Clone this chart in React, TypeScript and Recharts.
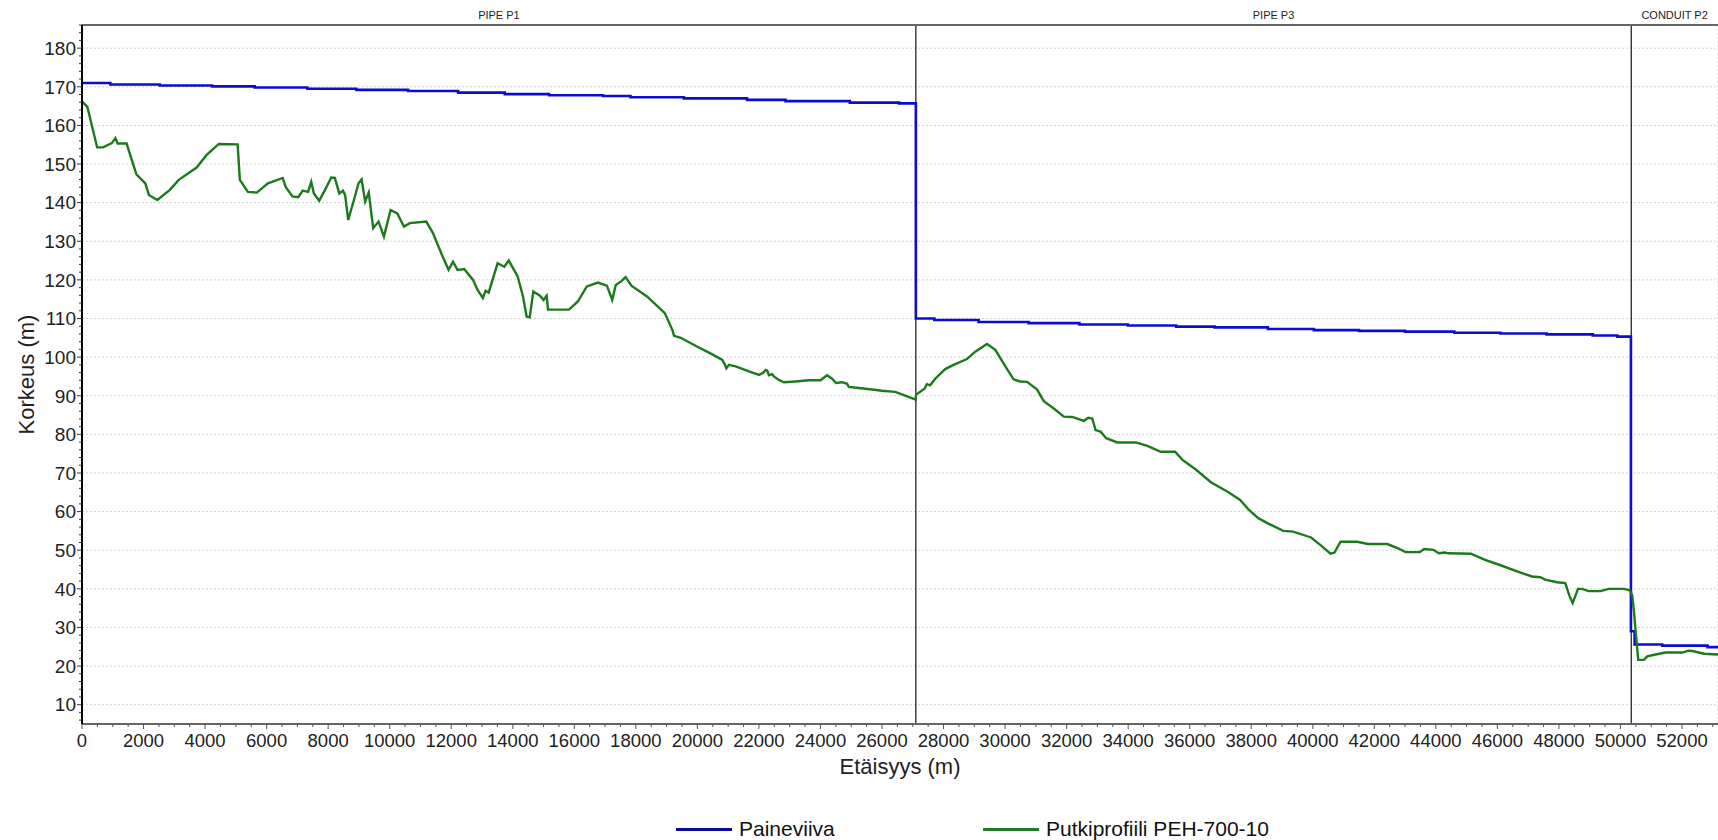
import React from 'react';
import { LineChart, Line, XAxis, YAxis, CartesianGrid, ReferenceLine, ReferenceArea, Legend } from 'recharts';

const FONT = '"Liberation Sans", Arial, sans-serif';

// Pipe profile (Putkiprofiili PEH-700-10): distance (m) and elevation (m)
const profileDistance = [
  0, 174, 493, 682, 971, 1087, 1160, 1450, 1768, 2058, 2174, 2449, 2855, 3145, 3725, 4043, 4275, 4449, 5058, 5130,
  5391, 5681, 6043, 6522, 6623, 6841, 7029, 7174, 7348, 7449, 7536, 7710, 7899, 8101, 8217, 8362, 8478, 8551, 8652, 8870,
  8986, 9087, 9203, 9319, 9464, 9638, 9812, 10029, 10246, 10464, 10652, 11188, 11406, 11696, 11913, 12058, 12203, 12420, 12710, 12855,
  13029, 13116, 13217, 13507, 13725, 13870, 14159, 14333, 14449, 14551, 14667, 14884, 15000, 15101, 15145, 15826, 16116, 16406, 16768, 17058,
  17232, 17348, 17522, 17667, 17855, 18362, 18942, 19189, 19243, 19459, 20000, 20486, 20811, 20897, 20940, 21027, 21243, 21676, 22000, 22130,
  22216, 22270, 22324, 22432, 22486, 22649, 22811, 23189, 23621, 24000, 24216, 24378, 24508, 24703, 24865, 24919, 25243, 25676, 26000, 26432,
  26757, 27090, 27110, 27381, 27457, 27566, 27728, 28054, 28326, 28760, 29032, 29412, 29683, 30009, 30281, 30498, 30715, 31041, 31258, 31584,
  31910, 32181, 32561, 32702, 32833, 32941, 33104, 33289, 33647, 34245, 34625, 35059, 35526, 35765, 36199, 36688, 37261, 37639, 37908, 38231,
  38555, 39040, 39363, 39946, 40272, 40576, 40707, 40902, 41446, 41794, 42424, 42772, 43011, 43478, 43620, 43913, 44098, 44294, 44402, 45141,
  45598, 46033, 46576, 47120, 47392, 47555, 47935, 48207, 48337, 48446, 48620, 48750, 48967, 49348, 49620, 50109, 50305, 50381, 50435, 50511,
  50576, 50761, 50870, 51141, 51467, 52011, 52207, 52337, 52718, 53170,
];
const profileElevation = [
  166.2, 164.8, 154.3, 154.3, 155.4, 156.7, 155.3, 155.3, 147.3, 145, 142, 140.7, 143.3, 145.9, 149.1, 152.3, 154, 155.2, 155.1, 145.9,
  142.8, 142.6, 145, 146.4, 144, 141.6, 141.4, 143.1, 142.8, 145.4, 142.4, 140.5, 143.3, 146.5, 146.4, 142.4, 143.1, 142, 135.5, 141.6,
  145, 146, 140.3, 142.6, 133.4, 135.1, 131.2, 138.1, 137.2, 133.8, 134.7, 135.1, 132.1, 126.5, 122.6, 124.7, 122.6, 122.8, 120, 117.4,
  115.3, 117.2, 116.7, 124.3, 123.4, 125, 120.9, 115.7, 110.5, 110.3, 117, 115.9, 114.8, 115.9, 112.3, 112.3, 114.4, 118.3, 119.3, 118.5,
  114.8, 118.7, 119.6, 120.7, 118.5, 115.7, 111.4, 107, 105.5, 105, 102.7, 100.7, 99.3, 98, 97.1, 98, 97.6, 96.3, 95.4, 95.9,
  96.7, 96.5, 95.3, 95.6, 95, 94.1, 93.5, 93.7, 94, 94, 95.3, 94.4, 93.3, 93.5, 93.1, 92.3, 92, 91.6, 91.3, 91,
  90, 89, 90.3, 91.8, 93, 92.7, 94.4, 96.9, 98, 99.5, 101.4, 103.4, 101.9, 97.6, 94.2, 93.7, 93.6, 91.6, 88.6, 86.7,
  84.6, 84.5, 83.5, 84.3, 84.1, 81.1, 80.7, 79, 77.9, 77.9, 77, 75.5, 75.5, 73.4, 70.9, 67.6, 65, 63, 60.6, 58.3,
  56.9, 55, 54.8, 53.3, 51.2, 49.1, 49.4, 52.2, 52.2, 51.6, 51.6, 50.5, 49.5, 49.5, 50.3, 50.1, 49.2, 49.4, 49.2, 49.1,
  47.5, 46.3, 44.7, 43.2, 43, 42.4, 41.7, 41.5, 38.3, 36.3, 40, 40, 39.4, 39.4, 40, 40, 39.6, 38.3, 34.4, 27.5,
  21.6, 21.6, 22.5, 23, 23.5, 23.5, 24, 23.9, 23.2, 23,
];

// Pressure line (Paineviiva): distance (m) and head (m), drawn as steps
const pressureDistance = [
  0, 922, 2525, 4226, 5613, 7325, 8918, 10598, 12224, 13740, 15180, 16935, 17825, 19558, 21616, 22863, 24954, 26557,
  27100, 27700, 29140, 30765, 32415, 33990, 35560, 36808, 38542, 40035, 41500, 43000, 44600, 46100, 47600, 49100, 49900,
  50340, 50460, 51360, 52830, 53170,
];
const pressureHead = [
  171, 170.6, 170.35, 170.1, 169.8, 169.5, 169.2, 168.9, 168.5, 168.1, 167.8, 167.6, 167.3, 167, 166.6, 166.3, 165.9, 165.7,
  110, 109.6, 109.1, 108.8, 108.45, 108.2, 107.9, 107.7, 107.3, 107, 106.8, 106.6, 106.3, 106.1, 105.9, 105.6, 105.3,
  29, 25.6, 25.3, 24.9, 24.9,
];

const xMajorTicks = [0, 2000, 4000, 6000, 8000, 10000, 12000, 14000, 16000, 18000, 20000, 22000, 24000, 26000, 28000, 30000,
  32000, 34000, 36000, 38000, 40000, 42000, 44000, 46000, 48000, 50000, 52000];
const yMajorTicks = [10, 20, 30, 40, 50, 60, 70, 80, 90, 100, 110, 120, 130, 140, 150, 160, 170, 180];

const segmentNames = ['PIPE P1', 'PIPE P3', 'CONDUIT P2'];
const segmentStarts = [0, 27100, 50350];
const segmentEnds = [27100, 50350, 53170];
const segmentBoundaries = [27100, 50350];

const seriesNames = ['Paineviiva', 'Putkiprofiili PEH-700-10'];
const seriesColors = ['#0c0cd0', '#1b7a1b'];
const legendColors = ['#0a0a9a', '#1f7a2a'];

const X_DOMAIN: [number, number] = [0, 53170];
const Y_DOMAIN: [number, number] = [5, 186];

const xAllTicks: number[] = [];
for (let t = 0; t <= 53000; t += 500) xAllTicks.push(t);
const yAllTicks: number[] = [];
for (let t = 6; t <= 186; t += 2) yAllTicks.push(t);

const profileData = profileDistance.map((d, i) => ({ d, v: profileElevation[i] }));
const pressureData = pressureDistance.map((d, i) => ({ d, v: pressureHead[i] }));

const XTick = (props: any) => {
  const { x, y, payload } = props;
  const major = payload.value % 2000 === 0;
  return (
    <g>
      <line x1={x} x2={x} y1={y} y2={y + (major ? 5 : 3)} stroke="#555" strokeWidth={1} />
      {major && (
        <text x={x} y={y + 23} textAnchor="middle" fontSize={18.5} fill="#222" fontFamily={FONT}>
          {payload.value}
        </text>
      )}
    </g>
  );
};

const YTick = (props: any) => {
  const { x, y, payload } = props;
  const major = payload.value % 10 === 0;
  return (
    <g>
      <line x1={x - (major ? 5 : 3)} x2={x} y1={y} y2={y} stroke="#333" strokeWidth={1} />
      {major && (
        <text x={x - 6} y={y + 6.8} textAnchor="end" fontSize={19} fill="#222" fontFamily={FONT}>
          {payload.value}
        </text>
      )}
    </g>
  );
};

const LegendContent = () => (
  <div style={{ display: 'flex', alignItems: 'center', height: 22, paddingLeft: 676, fontFamily: FONT, fontSize: 21, color: '#111' }}>
    {seriesNames.map((n, i) => (
      <div key={n} style={{ display: 'flex', alignItems: 'center', width: i === 0 ? 307 : 'auto' }}>
        <span style={{ display: 'inline-block', width: 56, borderTop: `3px solid ${legendColors[i]}`, marginRight: 7 }} />
        <span>{n}</span>
      </div>
    ))}
  </div>
);

export default function App() {
  return (
    <div style={{ position: 'absolute', left: 0, top: 0, width: 1718, height: 840, background: '#fff' }}>
      <LineChart width={1718} height={840} margin={{ top: 0, right: 0, bottom: 0, left: 0 }}>
        <XAxis xAxisId="grid" type="number" domain={X_DOMAIN} ticks={xMajorTicks} interval={0} hide allowDataOverflow />
        <YAxis yAxisId="grid" type="number" domain={Y_DOMAIN} ticks={yMajorTicks} interval={0} hide allowDataOverflow />
        <CartesianGrid xAxisId="grid" yAxisId="grid" stroke="#d2d2d2" strokeDasharray="2 2" />
        <XAxis
          xAxisId="top"
          orientation="top"
          type="number"
          domain={X_DOMAIN}
          ticks={[]}
          height={25}
          tickLine={false}
          tick={false}
          axisLine={{ stroke: '#666', strokeWidth: 2 }}
          allowDataOverflow
        />
        <XAxis
          type="number"
          dataKey="d"
          domain={X_DOMAIN}
          ticks={xAllTicks}
          interval={0}
          height={94}
          tickLine={false}
          tickSize={0}
          tickMargin={0}
          tick={<XTick />}
          axisLine={{ stroke: '#666', strokeWidth: 2 }}
          allowDataOverflow
          label={{
            content: (p: any) => {
              const vb = p.viewBox;
              return (
                <text x={vb.x + vb.width / 2} y={vb.y + 50} textAnchor="middle" fontSize={22} fill="#222" fontFamily={FONT}>
                  Etäisyys (m)
                </text>
              );
            },
          }}
        />
        <YAxis
          type="number"
          dataKey="v"
          domain={Y_DOMAIN}
          ticks={yAllTicks}
          interval={0}
          width={82}
          tickLine={false}
          tickSize={0}
          tickMargin={0}
          tick={<YTick />}
          axisLine={{ stroke: '#000', strokeWidth: 2 }}
          allowDataOverflow
          label={{
            content: (p: any) => {
              const vb = p.viewBox;
              const cx = vb.x + 26;
              const cy = vb.y + vb.height / 2;
              return (
                <text x={cx} y={cy} transform={`rotate(-90 ${cx} ${cy})`} textAnchor="middle" dominantBaseline="central" fontSize={22} fill="#222" fontFamily={FONT}>
                  Korkeus (m)
                </text>
              );
            },
          }}
        />
        {segmentNames.map((n, i) => (
          <ReferenceArea
            key={n}
            x1={segmentStarts[i]}
            x2={segmentEnds[i]}
            fill="#fff"
            fillOpacity={0}
            stroke="none"
            ifOverflow="visible"
            label={{
              content: (p: any) => {
                const vb = p.viewBox;
                return (
                  <text x={vb.x + vb.width / 2} y={vb.y - 6} textAnchor="middle" fontSize={11} fill="#222" fontFamily={FONT}>
                    {n}
                  </text>
                );
              },
            }}
          />
        ))}
        {segmentBoundaries.map((b) => (
          <ReferenceLine key={b} x={b} stroke="#111" strokeWidth={1.2} />
        ))}
        <Line
          data={pressureData}
          dataKey="v"
          name={seriesNames[0]}
          type="stepAfter"
          stroke={seriesColors[0]}
          strokeWidth={2.6}
          dot={false}
          activeDot={false}
          isAnimationActive={false}
        />
        <Line
          data={profileData}
          dataKey="v"
          name={seriesNames[1]}
          type="linear"
          stroke={seriesColors[1]}
          strokeWidth={2.4}
          dot={false}
          activeDot={false}
          isAnimationActive={false}
        />
        <Legend verticalAlign="bottom" align="left" height={22} content={() => <LegendContent />} wrapperStyle={{ left: 0, width: 1718 }} />
      </LineChart>
    </div>
  );
}
